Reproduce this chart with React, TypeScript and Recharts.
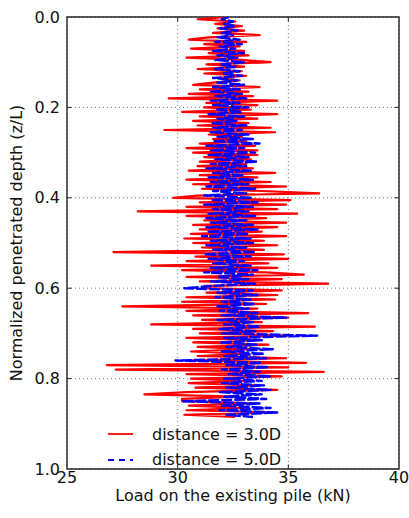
import React from 'react';
import {
  ScatterChart,
  Scatter,
  XAxis,
  YAxis,
  CartesianGrid,
  ReferenceArea,
  ReferenceLine
} from 'recharts';

const load3D = [
  32.3, 30.9, 32.6, 31.7, 32.9, 31.8, 33.0, 31.6, 33.7, 31.4,
  30.5, 33.1, 31.2, 32.8, 30.6, 33.0, 31.4, 33.2, 30.4, 32.9,
  34.2, 31.3, 33.0, 30.9, 32.9, 31.2, 33.1, 31.8, 32.8, 31.6,
  30.7, 33.7, 31.0, 33.2, 30.5, 33.4, 29.6, 34.5, 31.3, 33.6,
  31.2, 33.3, 30.2, 34.5, 31.0, 33.6, 30.7, 33.2, 30.9, 34.2,
  29.4, 34.4, 31.4, 32.9, 31.6, 33.1, 31.0, 33.5, 30.4, 33.6,
  30.7, 33.6, 31.2, 33.3, 31.0, 33.1, 30.9, 33.4, 30.5, 34.4,
  31.0, 33.6, 30.4, 34.2, 30.7, 34.9, 31.1, 33.8, 36.4, 30.9,
  29.8, 35.1, 31.0, 34.9, 30.4, 34.5, 28.2, 35.4, 30.4, 34.0,
  31.2, 34.9, 30.7, 34.5, 31.0, 33.8, 30.6, 34.9, 30.3, 33.9,
  30.7, 34.5, 31.1, 33.9, 27.1, 34.8, 30.8, 35.0, 30.4, 34.1,
  28.8, 34.5, 30.2, 34.0, 35.7, 30.4, 34.7, 31.0, 36.8, 31.2,
  31.3, 34.7, 31.3, 34.5, 30.4, 34.4, 30.2, 34.0, 27.5, 33.6,
  30.4, 35.9, 30.7, 35.0, 31.1, 33.8, 28.8, 36.2, 30.7, 34.3,
  31.0, 35.0, 30.4, 33.6, 30.7, 34.1, 30.9, 33.3, 30.6, 33.2,
  30.9, 34.9, 30.5, 35.8, 26.8, 35.0, 27.2, 36.6, 30.4, 34.7,
  30.6, 33.1, 30.5, 33.6, 30.8, 34.5, 30.4, 28.5, 32.8, 30.2,
  30.2, 33.4, 30.5, 33.0, 30.4, 34.4, 30.3, 32.6
];

const load5D = [
  32.3, 32.0, 32.5, 32.1, 32.6, 31.9, 32.7, 32.0, 32.5, 31.8,
  32.8, 31.7, 32.9, 31.9, 32.6, 31.6, 33.0, 31.8, 32.7, 31.7,
  33.0, 31.9, 32.6, 31.7, 32.8, 32.0, 32.9, 31.6, 32.7, 31.8,
  33.0, 31.6, 32.8, 31.5, 32.9, 31.7, 33.1, 31.5, 32.8, 31.6,
  33.2, 31.7, 32.9, 31.4, 33.0, 31.8, 32.7, 31.5, 33.1, 31.6,
  32.9, 31.5, 33.2, 31.8, 33.4, 31.6, 33.7, 31.3, 33.0, 31.5,
  33.5, 31.4, 33.2, 31.7, 33.6, 31.5, 33.1, 31.3, 33.3, 31.6,
  33.0, 31.4, 33.4, 31.5, 33.2, 31.3, 33.5, 31.6, 33.1, 31.2,
  33.3, 31.5, 33.6, 31.2, 33.4, 31.6, 33.2, 31.4, 33.5, 31.3,
  33.1, 31.5, 33.4, 31.3, 33.6, 31.4, 33.2, 31.1, 33.3, 31.5,
  33.4, 31.3, 33.1, 31.6, 33.5, 31.2, 33.3, 31.4, 33.0, 31.6,
  33.3, 31.5, 33.6, 31.2, 33.4, 31.8, 33.2, 31.5, 33.5, 31.6,
  30.3, 33.4, 31.8, 33.6, 31.7, 33.3, 32.0, 33.5, 31.8, 33.2,
  31.9, 33.6, 32.0, 34.9, 31.8, 33.4, 32.1, 33.7, 31.9, 33.5,
  32.0, 36.3, 32.1, 33.8, 31.9, 33.6, 32.2, 34.3, 32.0, 33.9,
  32.1, 34.0, 29.9, 33.8, 32.2, 34.1, 32.0, 33.7, 32.3, 34.2,
  32.1, 33.8, 32.0, 33.9, 32.2, 34.2, 31.9, 33.8, 32.1, 34.0,
  30.2, 33.7, 32.0, 34.2, 31.9, 34.5, 32.2, 33.4
];

// depth grid the loads were sampled on
const depthStep = 0.005;
const depth = load3D.map((_, i) => +(i * depthStep).toFixed(3));

const xTicks = [25, 30, 35, 40];
const yTicks = [0, 0.2, 0.4, 0.6, 0.8, 1.0];

const seriesNames = ['distance = 3.0D', 'distance = 5.0D'];

const data3D = load3D.map((v, i) => ({ load: v, depth: depth[i] }));
const data5D = load5D.map((v, i) => ({ load: v, depth: depth[i] }));

const FONT = '"DejaVu Sans", Verdana, sans-serif';
const RED = '#ff0000';
const BLUE = '#0000ff';
const FRAME = '#222';

const noDot = () => <g />;

export default function App() {
  return (
    <div style={{ position: 'absolute', left: 0, top: 0, width: 409, height: 518, fontFamily: FONT }}>
      <ScatterChart width={409} height={518} margin={{ top: 17, right: 10, bottom: 0, left: 0 }}>
        <CartesianGrid stroke="#777" strokeDasharray="1 3" />
        <XAxis
          type="number"
          dataKey="load"
          domain={[25, 40]}
          ticks={xTicks}
          allowDataOverflow
          height={49}
          axisLine={false}
          tickLine={false}
          tickSize={0}
          tickMargin={3}
          tick={{ fill: '#111', fontSize: 16, fontFamily: FONT }}
          label={{
            value: 'Load on the existing pile (kN)',
            position: 'insideBottom',
            offset: 17,
            fill: '#111',
            fontSize: 16,
            fontFamily: FONT
          }}
        />
        <YAxis
          type="number"
          dataKey="depth"
          domain={[0, 1]}
          ticks={yTicks}
          reversed
          allowDataOverflow
          width={67}
          axisLine={false}
          tickLine={false}
          tickSize={0}
          tickMargin={7}
          tickFormatter={(v: number) => v.toFixed(1)}
          tick={{ fill: '#111', fontSize: 16, fontFamily: FONT }}
          label={(props: any) => {
            const vb = props.viewBox || { y: 17, height: 452 };
            const cy = vb.y + vb.height / 2;
            return (
              <text
                x={22}
                y={cy}
                transform={`rotate(-90, 22, ${cy})`}
                textAnchor="middle"
                fill="#111"
                fontSize={16}
                fontFamily={FONT}
              >
                Normalized penetrated depth (z/L)
              </text>
            );
          }}
        />

        <Scatter
          name={seriesNames[0]}
          data={data3D}
          shape={noDot}
          line={{ stroke: RED, strokeWidth: 2.2, strokeLinejoin: 'round' }}
          lineJointType="linear"
          isAnimationActive={false}
        />
        <Scatter
          name={seriesNames[1]}
          data={data5D}
          shape={noDot}
          line={{ stroke: BLUE, strokeWidth: 2.4, strokeDasharray: '11 2', strokeLinejoin: 'round' }}
          lineJointType="linear"
          isAnimationActive={false}
        />

        {/* inward tick marks on all four sides */}
        {xTicks.slice(1, -1).map((t) => (
          <ReferenceLine key={'xb' + t} segment={[{ x: t, y: 1 }, { x: t, y: 0.99 }]} stroke={FRAME} />
        ))}
        {xTicks.slice(1, -1).map((t) => (
          <ReferenceLine key={'xt' + t} segment={[{ x: t, y: 0 }, { x: t, y: 0.01 }]} stroke={FRAME} />
        ))}
        {yTicks.slice(1, -1).map((t) => (
          <ReferenceLine key={'yl' + t} segment={[{ x: 25, y: t }, { x: 25.2, y: t }]} stroke={FRAME} />
        ))}
        {yTicks.slice(1, -1).map((t) => (
          <ReferenceLine key={'yr' + t} segment={[{ x: 40, y: t }, { x: 39.8, y: t }]} stroke={FRAME} />
        ))}

        <ReferenceArea x1={25} x2={40} y1={0} y2={1} fill="none" fillOpacity={0} stroke={FRAME} strokeWidth={1.4} />
      </ScatterChart>

      {/* legend box sits inside the axes, lower middle */}
      <div style={{ position: 'absolute', left: 106, top: 423, fontSize: 16, color: '#111', lineHeight: '24px' }}>
        <div style={{ display: 'flex', alignItems: 'center', height: 24 }}>
          <svg width={30} height={24}>
            <line x1={2} y1={11} x2={27} y2={11} stroke={RED} strokeWidth={1.8} />
          </svg>
          <span style={{ marginLeft: 16 }}>{seriesNames[0]}</span>
        </div>
        <div style={{ display: 'flex', alignItems: 'center', height: 24, marginTop: 1 }}>
          <svg width={30} height={24}>
            <line x1={2} y1={12} x2={27} y2={12} stroke={BLUE} strokeWidth={1.8} strokeDasharray="6 5" />
          </svg>
          <span style={{ marginLeft: 16 }}>{seriesNames[1]}</span>
        </div>
      </div>
    </div>
  );
}
